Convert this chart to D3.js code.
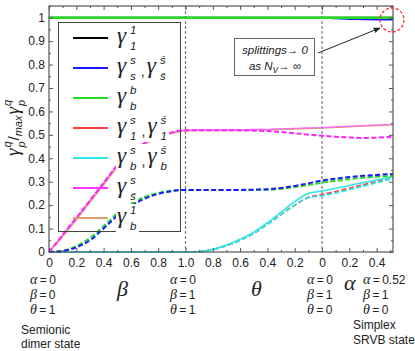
<!DOCTYPE html>
<html>
<head>
<meta charset="utf-8">
<script src="https://cdn.jsdelivr.net/npm/d3@7"></script>
<style>
  body { margin: 0; background: #fff; }
  svg { display: block; }
</style>
</head>
<body>
<div id="chart"></div>
<script>
// path coordinate: 0..1 = beta (0->1), 1..2 = theta (1->0), 2..2.52 = alpha (0->0.52)
const pos = [0, 0.1, 0.2, 0.3, 0.4, 0.5, 0.6, 0.7, 0.8, 0.9, 1.0,
             1.1, 1.2, 1.3, 1.4, 1.5, 1.6, 1.7, 1.8, 1.9, 2.0,
             2.1, 2.2, 2.3, 2.4, 2.52];

const xTickPos = [0, 0.2, 0.4, 0.6, 0.8, 1.0, 1.2, 1.4, 1.6, 1.8, 2.0, 2.2, 2.4];
const xTickLabels = ["0", "0.2", "0.4", "0.6", "0.8", "1.0", "0.8", "0.6", "0.4", "0.2", "0", "0.2", "0.4"];
const xMinorPos = [0.1, 0.3, 0.5, 0.7, 0.9, 1.1, 1.3, 1.5, 1.7, 1.9, 2.1, 2.3, 2.5];
const yTickPos = [0, 0.1, 0.2, 0.3, 0.4, 0.5, 0.6, 0.7, 0.8, 0.9, 1];
const yTickLabels = ["0", "0.1", "0.2", "0.3", "0.4", "0.5", "0.6", "0.7", "0.8", "0.9", "1"];
const yMinorPos = [0.05, 0.15, 0.25, 0.35, 0.45, 0.55, 0.65, 0.75, 0.85, 0.95, 1.05];
const segmentBounds = [1.0, 2.0];

// series values
const gamma11 = [1, 1, 1, 1, 1, 1, 1, 1, 1, 1, 1, 1, 1, 1, 1, 1, 1, 1, 1, 1, 1, 1, 1, 1, 1, 1];
const gammaBB = [1, 1, 1, 1, 1, 1, 1, 1, 1, 1, 1, 1, 1, 1, 1, 1, 1, 1, 1, 1, 1, 1, 1, 1, 1, 1];
const gammaSS = [1, 1, 1, 1, 1, 1, 1, 1, 1, 1, 1, 1, 1, 1, 1, 1, 1, 1, 1, 1, 1, 0.997, 0.994, 0.993, 0.992, 0.992];
const blueDash = [0, 0.004, 0.02, 0.05, 0.1, 0.155, 0.195, 0.228, 0.248, 0.26, 0.265,
                  0.265, 0.265, 0.265, 0.265, 0.266, 0.268, 0.273, 0.282, 0.293, 0.305,
                  0.313, 0.32, 0.325, 0.329, 0.333];
const greenDash = [0, 0.005, 0.025, 0.06, 0.11, 0.165, 0.205, 0.235, 0.252, 0.262, 0.265,
                   0.265, 0.265, 0.265, 0.265, 0.265, 0.266, 0.27, 0.277, 0.286, 0.296,
                   0.304, 0.311, 0.317, 0.321, 0.325];
const cyanSolid = [0, 0, 0, 0, 0, 0, 0, 0, 0, 0, 0,
                   0.002, 0.012, 0.03, 0.055, 0.085, 0.125, 0.17, 0.215, 0.25, 0.26,
                   0.272, 0.284, 0.296, 0.307, 0.32];
const cyanDash = [0, 0, 0, 0, 0, 0, 0, 0, 0, 0, 0,
                  0.001, 0.01, 0.027, 0.05, 0.08, 0.118, 0.16, 0.2, 0.232, 0.24,
                  0.252, 0.266, 0.281, 0.296, 0.314];
const redDash = [0, 0, 0, 0, 0, 0, 0, 0, 0, 0, 0,
                 0.001, 0.01, 0.027, 0.05, 0.08, 0.118, 0.16, 0.2, 0.233, 0.245,
                 0.258, 0.272, 0.286, 0.3, 0.316];
const magentaSolid = [0, 0.073, 0.146, 0.22, 0.295, 0.37, 0.425, 0.465, 0.49, 0.51, 0.52,
                      0.521, 0.521, 0.521, 0.522, 0.523, 0.524, 0.526, 0.528, 0.53, 0.531,
                      0.534, 0.537, 0.54, 0.542, 0.545];
const tanSolid = [0, 0.066, 0.138, 0.212, 0.287, 0.362, 0.418, 0.46, 0.486, 0.507, 0.518,
                  0.519, 0.519, 0.519, 0.52, 0.521, 0.522, 0.523, 0.525, 0.527, 0.529,
                  0.532, 0.535, 0.538, 0.54, 0.543];
const magentaDash = [0, 0.073, 0.146, 0.22, 0.295, 0.37, 0.425, 0.465, 0.49, 0.51, 0.52,
                     0.52, 0.52, 0.52, 0.519, 0.518, 0.516, 0.512, 0.507, 0.501, 0.496,
                     0.492, 0.489, 0.487, 0.488, 0.492];

// legend
const legendColors = ["#000000", "#1a1aff", "#22dd22", "#ff3b3b", "#2ee6e6", "#ff33ff", "#d9a06e"];
const legendSup = ["1", "s", "b", "s", "s", "s", "1"];
const legendSub = ["1", "s", "b", "1", "b", "s\u0304", "b"];
const legendSup2 = [null, "s\u0304", null, "s\u0304", "s\u0304", null, null];
const legendSub2 = [null, "s\u0304", null, "1", "b", null, null];

// parameter annotations under the axis
const paramX = [30, 170, 307, 363];
const paramAlpha = ["0", "0", "0", "0.52"];
const paramBeta = ["0", "1", "1", "1"];
const paramTheta = ["1", "1", "0", "0"];

const W = 415, H = 351;
const serif = "'Liberation Serif', 'DejaVu Serif', serif";
const sans = "'Liberation Sans', 'DejaVu Sans', sans-serif";
const ink = "#222";

const svg = d3.select("#chart").append("svg")
    .attr("width", W)
    .attr("height", H)
    .style("font-family", sans);

const x = d3.scaleLinear().domain([0, 2.52]).range([49, 393]);
const y = d3.scaleLinear().domain([0, 1.05]).range([252, 6]);

// dashed segment separators
svg.selectAll("line.sep")
    .data(segmentBounds)
    .enter().append("line")
    .attr("x1", d => x(d)).attr("x2", d => x(d))
    .attr("y1", y(1.05)).attr("y2", y(0))
    .attr("stroke", "#777")
    .attr("stroke-width", 1.2)
    .attr("stroke-dasharray", "3,2");

// data lines
const line = d3.line()
    .x((d, i) => x(pos[i]))
    .y(d => y(d))
    .curve(d3.curveMonotoneX);

const series = [
    { v: redDash, c: "#ff3b3b", dash: "5,2.5", w: 1.8 },
    { v: cyanDash, c: "#2ee6e6", dash: "5,2.5", w: 1.8 },
    { v: cyanSolid, c: "#2ee6e6", dash: null, w: 1.5 },
    { v: greenDash, c: "#22dd22", dash: "5,2.5", w: 2 },
    { v: blueDash, c: "#1a1aff", dash: "5,2.5", w: 2 },
    { v: tanSolid, c: "#d9a06e", dash: null, w: 1.5 },
    { v: magentaSolid, c: "#ff66ff", dash: null, w: 1.2 },
    { v: magentaDash, c: "#ff22ff", dash: "5,2.5", w: 2 },
    { v: gamma11, c: "#000000", dash: null, w: 2 },
    { v: gammaSS, c: "#1a1aff", dash: null, w: 1.6 },
    { v: gammaBB, c: "#22dd22", dash: null, w: 2.6 }
];

svg.append("g").selectAll("path")
    .data(series)
    .enter().append("path")
    .attr("d", d => line(d.v))
    .attr("fill", "none")
    .attr("stroke", d => d.c)
    .attr("stroke-width", d => d.w)
    .attr("stroke-dasharray", d => d.dash);

// gamma with super/subscript, returns end x
function gamma(g, x0, y0, sup, sub, size, small, gap) {
    const gl = g.append("text")
        .attr("x", x0).attr("y", y0)
        .style("font-family", serif).style("font-style", "italic")
        .style("font-size", size + "px")
        .attr("fill", ink)
        .text("\u03b3");
    const gw = gl.node().getComputedTextLength();
    const sp = g.append("text")
        .attr("x", x0 + gw + gap).attr("y", y0 - size * 0.4)
        .style("font-style", "italic").style("font-size", small + "px")
        .attr("fill", ink).text(sup);
    const sb = g.append("text")
        .attr("x", x0 + gw + gap).attr("y", y0 + size * 0.32)
        .style("font-style", "italic").style("font-size", small + "px")
        .attr("fill", ink).text(sub);
    return x0 + gw + gap + Math.max(sp.node().getComputedTextLength(), sb.node().getComputedTextLength());
}

// legend: no fill, but each label sits on a white patch that hides the curves
const legend = svg.append("g");
legend.append("rect")
    .attr("x", 58.5).attr("y", 22.5)
    .attr("width", 122).attr("height", 209)
    .attr("fill", "none")
    .attr("stroke", "#444")
    .attr("stroke-width", 1);

legendColors.forEach((c, i) => {
    const ry = 38 + 30 * i;
    legend.append("line")
        .attr("x1", 73).attr("x2", 108)
        .attr("y1", ry).attr("y2", ry)
        .attr("stroke", c).attr("stroke-width", 2);
    const row = legend.append("g");
    const endX = gamma(row, 117, ry + 5, legendSup[i], legendSub[i], 23, 11.5, 4);
    if (legendSup2[i]) {
        row.append("text")
            .attr("x", endX + 5).attr("y", ry + 8)
            .style("font-size", "14px").attr("fill", ink).text(",");
        gamma(row, endX + 11, ry + 5, legendSup2[i], legendSub2[i], 23, 11.5, 4);
    }
    const b = row.node().getBBox();
    legend.insert("rect", () => row.node())
        .attr("x", b.x - 1).attr("y", ry - 14)
        .attr("width", b.width + 3).attr("height", 28)
        .attr("fill", "#fff");
});

// axes
function styleAxis(g) {
    g.select(".domain").remove();
    g.selectAll(".tick line").attr("stroke", "#555");
    g.selectAll(".tick text").attr("fill", "#222").style("font-size", "12px").style("font-family", sans);
}

svg.append("g")
    .attr("transform", "translate(0,252)")
    .call(d3.axisBottom(x).tickValues(xTickPos).tickSizeInner(-4).tickSizeOuter(0)
        .tickPadding(6).tickFormat((d, i) => xTickLabels[i]))
    .call(styleAxis);
svg.append("g")
    .attr("transform", "translate(0,252)")
    .call(d3.axisBottom(x).tickValues(xMinorPos).tickSizeInner(-2).tickSizeOuter(0).tickFormat(""))
    .call(styleAxis);
svg.append("g")
    .attr("transform", "translate(0,6)")
    .call(d3.axisTop(x).tickValues(xTickPos).tickSizeInner(-4).tickSizeOuter(0).tickFormat(""))
    .call(styleAxis);
svg.append("g")
    .attr("transform", "translate(0,6)")
    .call(d3.axisTop(x).tickValues(xMinorPos).tickSizeInner(-2).tickSizeOuter(0).tickFormat(""))
    .call(styleAxis);

svg.append("g")
    .attr("transform", "translate(49,0)")
    .call(d3.axisLeft(y).tickValues(yTickPos).tickSizeInner(-4).tickSizeOuter(0)
        .tickPadding(4).tickFormat((d, i) => yTickLabels[i]))
    .call(styleAxis);
svg.append("g")
    .attr("transform", "translate(49,0)")
    .call(d3.axisLeft(y).tickValues(yMinorPos).tickSizeInner(-2).tickSizeOuter(0).tickFormat(""))
    .call(styleAxis);
svg.append("g")
    .attr("transform", "translate(393,0)")
    .call(d3.axisRight(y).tickValues(yTickPos).tickSizeInner(-4).tickSizeOuter(0).tickFormat(""))
    .call(styleAxis);
svg.append("g")
    .attr("transform", "translate(393,0)")
    .call(d3.axisRight(y).tickValues(yMinorPos).tickSizeInner(-2).tickSizeOuter(0).tickFormat(""))
    .call(styleAxis);

// frame
svg.append("rect")
    .attr("x", 49).attr("y", 6)
    .attr("width", 344).attr("height", 246)
    .attr("fill", "none")
    .attr("stroke", "#555")
    .attr("stroke-width", 1.2);

// y-axis label, centred on the plot height
const yOuter = svg.append("g").attr("transform", "translate(19,128) rotate(-90)");
const yl = yOuter.append("g");
let lx = gamma(yl, 0, 0, "q", "p", 19, 11, 1);
const slash = yl.append("text")
    .attr("x", lx + 1).attr("y", 0)
    .style("font-size", "15px").attr("fill", ink).text("/");
lx += 1 + slash.node().getComputedTextLength();
const mx = yl.append("text")
    .attr("x", lx).attr("y", 3)
    .style("font-style", "italic").style("font-size", "11px").attr("fill", ink).text("max");
lx += mx.node().getComputedTextLength() + 1;
lx = gamma(yl, lx, 0, "q", "p", 19, 11, 1);
yl.attr("transform", `translate(${-lx / 2},0)`);

// annotation box + arrow
svg.append("defs").append("marker")
    .attr("id", "head")
    .attr("viewBox", "0 0 10 10")
    .attr("refX", 9).attr("refY", 5)
    .attr("markerWidth", 7).attr("markerHeight", 7)
    .attr("orient", "auto")
    .append("path").attr("d", "M0,1 L10,5 L0,9 Z").attr("fill", "#222");

svg.append("line")
    .attr("x1", 318).attr("y1", 53)
    .attr("x2", 380).attr("y2", 28)
    .attr("stroke", "#222").attr("stroke-width", 1)
    .attr("marker-end", "url(#head)");

svg.append("rect")
    .attr("x", 234.5).attr("y", 38.5)
    .attr("width", 80).attr("height", 37)
    .attr("fill", "#fff").attr("stroke", "#666").attr("stroke-width", 1);

const note = svg.append("g").style("font-style", "italic").style("font-size", "11.5px").attr("fill", ink);
note.append("text").attr("x", 275).attr("y", 54).attr("text-anchor", "middle")
    .text("splittings\u2192 0");
const n2 = note.append("text").attr("x", 275).attr("y", 70).attr("text-anchor", "middle");
n2.append("tspan").text("as N");
n2.append("tspan").attr("dy", 3).style("font-size", "8.5px").text("V");
n2.append("tspan").attr("dy", -3).text("\u2192 \u221e");

svg.append("circle")
    .attr("cx", 392).attr("cy", 20).attr("r", 12)
    .attr("fill", "none")
    .attr("stroke", "#ff2a2a")
    .attr("stroke-width", 1.3)
    .attr("stroke-dasharray", "3,2");

// parameter rows below the axis
const rowBase = [284, 299, 314];
paramX.forEach((px, i) => {
    [["\u03b1", paramAlpha[i]], ["\u03b2", paramBeta[i]], ["\u03b8", paramTheta[i]]].forEach((p, j) => {
        const t = svg.append("text").attr("x", px).attr("y", rowBase[j]).attr("fill", ink);
        t.append("tspan").style("font-family", serif).style("font-style", "italic")
            .style("font-size", "14px").text(p[0]);
        t.append("tspan").style("font-size", "12px").text("\u2009=\u2009" + p[1]);
    });
});

const bigVars = [{ s: "\u03b2", x: 117, y: 296 }, { s: "\u03b8", x: 251, y: 296 }, { s: "\u03b1", x: 344, y: 290 }];
svg.selectAll("text.big")
    .data(bigVars)
    .enter().append("text")
    .attr("x", d => d.x).attr("y", d => d.y)
    .style("font-family", serif).style("font-style", "italic").style("font-size", "22px")
    .attr("fill", ink)
    .text(d => d.s);

const stateText = [
    { s: "Semionic", x: 21, y: 334 },
    { s: "dimer state", x: 21, y: 348 },
    { s: "Simplex", x: 353, y: 329 },
    { s: "SRVB state", x: 353, y: 344 }
];
svg.selectAll("text.state")
    .data(stateText)
    .enter().append("text")
    .attr("x", d => d.x).attr("y", d => d.y)
    .style("font-size", "12px")
    .attr("fill", ink)
    .text(d => d.s);
</script>
</body>
</html>
